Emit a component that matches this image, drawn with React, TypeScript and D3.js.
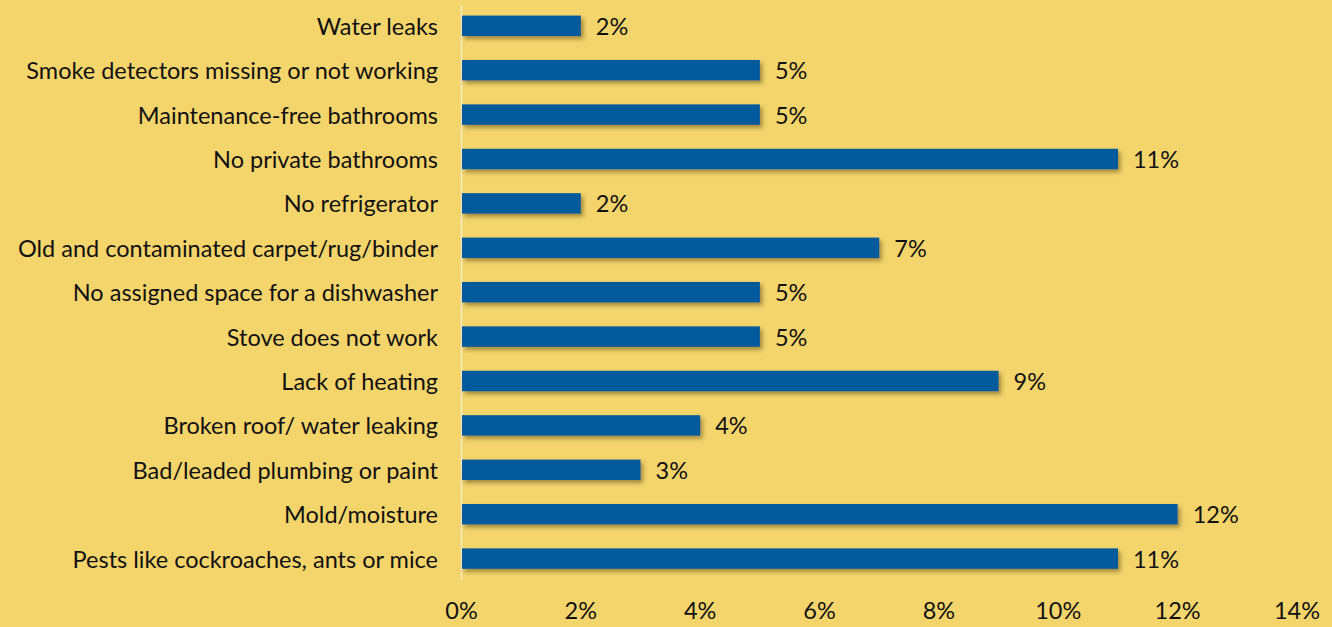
import React, { useEffect } from "react";
import * as d3 from "d3";

const categories = [
  "Water leaks",
  "Smoke detectors missing or not working",
  "Maintenance-free bathrooms",
  "No private bathrooms",
  "No refrigerator",
  "Old and contaminated carpet/rug/binder",
  "No assigned space for a dishwasher",
  "Stove does not work",
  "Lack of heating",
  "Broken roof/ water leaking",
  "Bad/leaded plumbing or paint",
  "Mold/moisture",
  "Pests like cockroaches, ants or mice",
];
const values = [2, 5, 5, 11, 2, 7, 5, 5, 9, 4, 3, 12, 11];
const ticks = [0, 2, 4, 6, 8, 10, 12, 14];

const W = 1332;
const H = 627;
const FONT = "Lato, 'Open Sans', sans-serif";
const FS = 23.5;

export default function App() {
  useEffect(() => {
    document.body.style.margin = "0";
  }, []);

  const x = d3.scaleLinear().domain([0, 14]).range([461.5, 1297]);
  const y = d3
    .scaleBand<string>()
    .domain(categories)
    .range([3.6, 580.8])
    .paddingInner(0.54)
    .paddingOuter(0.27);
  const bw = y.bandwidth();

  return (
    <svg width={W} height={H} style={{ display: "block", background: "#f4d56c" }}>
      <defs>
        <filter id="shadow" x="-5%" y="-50%" width="110%" height="220%">
          <feDropShadow dx="2.5" dy="3" stdDeviation="2" floodColor="#3a2a00" floodOpacity="0.45" />
        </filter>
      </defs>
      <rect x={0} y={0} width={W} height={H} fill="#f4d56c" />
      <line x1={x(0)} x2={x(0)} y1={5} y2={580} stroke="#f7ebc4" strokeWidth={1.5} />
      {categories.map((c, i) => {
        const yc = (y(c) as number) + bw / 2;
        return (
          <g key={c}>
            <rect
              x={x(0) + 0.5}
              y={y(c)}
              width={x(values[i]) - x(0) - 0.5}
              height={bw}
              fill="#065a9c"
              filter="url(#shadow)"
            />
            <text
              x={438}
              y={yc}
              textAnchor="end"
              dominantBaseline="central"
              fontFamily={FONT}
              fontSize={FS}
              fill="#111"
            >
              {c}
            </text>
            <text
              x={x(values[i]) + 15}
              y={yc}
              dominantBaseline="central"
              fontFamily={FONT}
              fontSize={FS}
              fill="#111"
            >
              {values[i]}%
            </text>
          </g>
        );
      })}
      {ticks.map((t) => (
        <text
          key={t}
          x={x(t)}
          y={610}
          textAnchor="middle"
          dominantBaseline="central"
          fontFamily={FONT}
          fontSize={FS}
          fill="#111"
        >
          {t}%
        </text>
      ))}
    </svg>
  );
}
